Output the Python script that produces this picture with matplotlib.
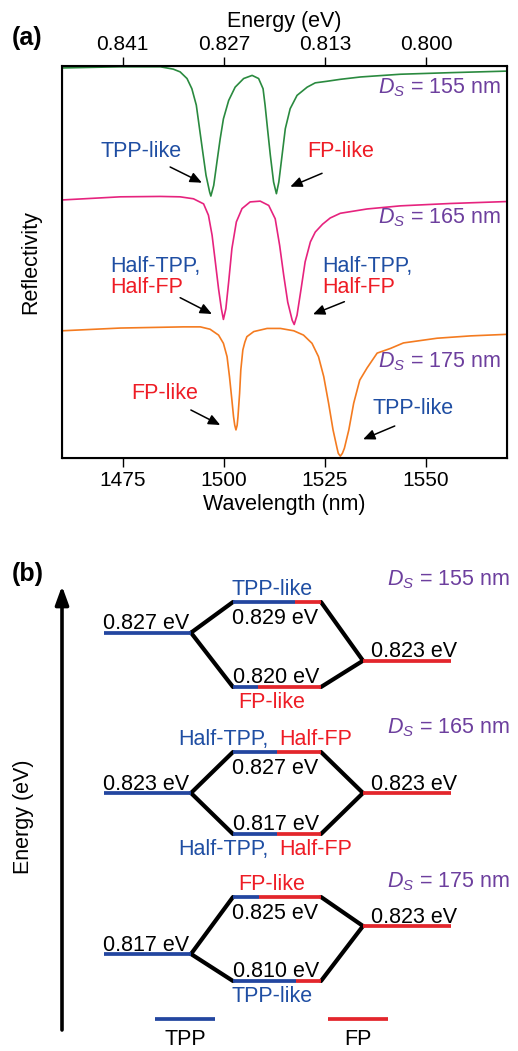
import matplotlib
matplotlib.use('Agg')
import matplotlib.pyplot as plt
from matplotlib.patches import ArrowStyle

plt.rcParams['font.family'] = ['Liberation Sans', 'DejaVu Sans']
plt.rcParams['mathtext.fontset'] = 'custom'
plt.rcParams['mathtext.rm'] = 'Liberation Sans'
plt.rcParams['mathtext.it'] = 'Liberation Sans:italic'

# ---------------- data: panel (a) reflectivity spectra (stacked, a.u.) ----------------
wl_155 = [1460.0, 1474.4, 1484.3, 1487.5, 1489.2, 1490.9, 1492.1, 1493.2, 1494.0, 1494.8,
          1495.6, 1496.5, 1496.8, 1497.5, 1498.3, 1499.1, 1499.9, 1501.2, 1502.8, 1504.9,
          1507.0, 1508.6, 1509.7, 1510.2, 1510.8, 1511.5, 1512.3, 1513.0, 1513.6, 1514.4,
          1515.2, 1516.4, 1518.1, 1520.6, 1522.6, 1525.5, 1528.8, 1533.8, 1543.7, 1556.0,
          1570.1]
r_155 = [0.995, 0.998, 0.998, 0.992, 0.985, 0.968, 0.942, 0.900, 0.840, 0.780,
         0.721, 0.678, 0.668, 0.695, 0.755, 0.814, 0.865, 0.912, 0.946, 0.968,
         0.976, 0.968, 0.942, 0.900, 0.840, 0.772, 0.704, 0.674, 0.704, 0.772,
         0.840, 0.891, 0.925, 0.946, 0.957, 0.961, 0.966, 0.972, 0.979, 0.983,
         0.987]

wl_165 = [1460.0, 1474.4, 1484.3, 1489.2, 1492.5, 1495.0, 1496.2, 1497.1, 1497.9, 1498.7,
          1499.4, 1499.9, 1500.5, 1501.2, 1502.0, 1503.1, 1504.5, 1506.5, 1509.0, 1511.1,
          1512.7, 1513.8, 1514.8, 1515.8, 1516.9, 1517.4, 1518.1, 1519.1, 1520.1, 1521.4,
          1522.6, 1524.4, 1526.3, 1528.8, 1535.4, 1543.7, 1556.0, 1570.1]
r_165 = [0.658, 0.666, 0.667, 0.666, 0.661, 0.648, 0.619, 0.568, 0.500, 0.431,
         0.380, 0.353, 0.380, 0.449, 0.534, 0.602, 0.636, 0.653, 0.655, 0.644,
         0.610, 0.542, 0.466, 0.397, 0.351, 0.340, 0.364, 0.431, 0.500, 0.551,
         0.576, 0.596, 0.612, 0.624, 0.635, 0.643, 0.649, 0.654]

wl_175 = [1460.0, 1474.4, 1490.0, 1494.2, 1496.6, 1498.7, 1499.9, 1500.8, 1501.4, 1502.0,
          1502.4, 1502.7, 1503.0, 1503.3, 1503.5, 1503.9, 1504.2, 1504.7, 1505.2, 1505.7,
          1507.4, 1510.7, 1514.0, 1517.3, 1519.7, 1521.8, 1523.4, 1524.7, 1525.9, 1527.0,
          1528.0, 1528.3, 1528.8, 1529.3, 1529.8, 1530.9, 1532.1, 1533.6, 1535.4, 1537.9,
          1541.2, 1544.4, 1552.7, 1561.0, 1570.1]
r_175 = [0.324, 0.331, 0.334, 0.334, 0.328, 0.313, 0.292, 0.258, 0.207, 0.147,
         0.105, 0.083, 0.071, 0.083, 0.105, 0.164, 0.224, 0.275, 0.295, 0.309,
         0.322, 0.330, 0.330, 0.324, 0.313, 0.292, 0.258, 0.207, 0.139, 0.071,
         0.024, 0.011, 0.004, 0.011, 0.024, 0.071, 0.139, 0.198, 0.229, 0.267,
         0.279, 0.293, 0.305, 0.311, 0.315]

wl_ticks = [1475, 1500, 1525, 1550]
energy_ticks = ['0.841', '0.827', '0.813', '0.800']
ds_values = [155, 165, 175]

# ---------------- data: panel (b) energy-level diagram ----------------
tpp_energy = ['0.827', '0.823', '0.817']
fp_energy = ['0.823', '0.823', '0.823']
upper_energy = ['0.829', '0.827', '0.825']
lower_energy = ['0.820', '0.817', '0.810']
upper_tpp_frac = [0.70, 0.50, 0.30]
lower_tpp_frac = [0.28, 0.50, 0.72]
upper_mode = ['TPP-like', 'half', 'FP-like']
lower_mode = ['FP-like', 'half', 'TPP-like']
# schematic level heights (diagram units, downwards)
left_y = [632.7, 793.0, 954.0]
upper_y = [602.0, 752.0, 897.0]
lower_y = [687.0, 834.0, 981.0]
right_y = [660.7, 793.0, 926.0]

# ---------------- styles ----------------
c_green = '#2a8a3f'
c_pink = '#e6237e'
c_orange = '#f47b20'
c_purple = '#6d3f9e'
c_bluetxt = '#1f4ea3'
c_redtxt = '#ee1c25'
c_tpp = '#2346a0'
c_fp = '#e3262c'
FS = 15.5

W, H = 518, 1051
fig = plt.figure(figsize=(W / 100, H / 100), dpi=100)

# ================= panel (a) =================
ax = fig.add_axes([62 / W, 1 - 457.7 / H, 445 / W, 391.7 / H])
ax.plot(wl_155, r_155, color=c_green, lw=1.2)
ax.plot(wl_165, r_165, color=c_pink, lw=1.2)
ax.plot(wl_175, r_175, color=c_orange, lw=1.2)
ax.set_xlim(1460, 1570)
ax.set_ylim(0, 1)
ax.set_yticks([])
ax.set_xticks(wl_ticks)
ax.tick_params(axis='x', direction='out', length=6.3, width=1.0, labelsize=15, pad=3)
for s in ax.spines.values():
    s.set_linewidth(1.5)
ax.set_xlabel('Wavelength (nm)', fontsize=FS, labelpad=3)
ax.set_ylabel('Reflectivity', fontsize=FS, labelpad=15)

ax2 = ax.twiny()
ax2.set_xlim(ax.get_xlim())
ax2.set_xticks(wl_ticks)
ax2.set_xticklabels(energy_ticks)
ax2.tick_params(axis='x', direction='out', length=6.3, width=1.0, labelsize=15, pad=2)
ax2.set_xlabel('Energy (eV)', fontsize=FS, labelpad=6)

fig.text(12 / W, 1 - 38 / H, '(a)', fontsize=18, fontweight='bold', va='center', ha='left')

# D_S labels
for ds, yv in zip(ds_values, [0.945, 0.612, 0.244]):
    ax.text(1568.5, yv, r'$D_S$ = %d nm' % ds, color=c_purple, fontsize=FS,
            ha='right', va='center')


def arr(a, txt_xy, head_xy):
    a.annotate('', xy=head_xy, xytext=txt_xy,
               arrowprops=dict(arrowstyle=ArrowStyle('-|>', head_length=0.5, head_width=0.22),
                               color='black', lw=1.1, mutation_scale=14,
                               shrinkA=0, shrinkB=0))


def px2d(x, y):
    return (1460 + (x - 62) / 4.04, (457.7 - y) / 391.7)


ax.text(*px2d(141, 152), 'TPP-like', color=c_bluetxt, fontsize=FS, ha='center', va='center')
ax.text(*px2d(340, 152), 'FP-like', color=c_redtxt, fontsize=FS, ha='center', va='center')
arr(ax, px2d(170, 167), px2d(201.7, 182.7))
arr(ax, px2d(321.7, 173.3), px2d(290, 186.7))

ax.text(*px2d(110, 266.7), 'Half-TPP,', color=c_bluetxt, fontsize=FS, ha='left', va='center')
ax.text(*px2d(110, 287.3), 'Half-FP', color=c_redtxt, fontsize=FS, ha='left', va='center')
ax.text(*px2d(321.7, 266.7), 'Half-TPP,', color=c_bluetxt, fontsize=FS, ha='left', va='center')
ax.text(*px2d(321.7, 287.3), 'Half-FP', color=c_redtxt, fontsize=FS, ha='left', va='center')
arr(ax, px2d(180, 297.7), px2d(211.7, 314))
arr(ax, px2d(344, 301.7), px2d(312.7, 314.3))

ax.text(*px2d(164.5, 393.3), 'FP-like', color=c_redtxt, fontsize=FS, ha='center', va='center')
ax.text(*px2d(412.5, 408.3), 'TPP-like', color=c_bluetxt, fontsize=FS, ha='center', va='center')
arr(ax, px2d(190.7, 410), px2d(220, 425))
arr(ax, px2d(394.3, 426), px2d(362.7, 439.3))

# ================= panel (b) =================
axb = fig.add_axes([0, 0, 1, 511 / H])
axb.set_xlim(0, W)
axb.set_ylim(H, 540)
axb.axis('off')

fig.text(12 / W, 1 - 574 / H, '(b)', fontsize=18, fontweight='bold', va='center', ha='left')

axb.annotate('', xy=(62, 586), xytext=(62, 1030),
             arrowprops=dict(arrowstyle=ArrowStyle('-|>', head_length=0.55, head_width=0.2),
                             color='black', lw=2.6, mutation_scale=20, shrinkA=0, shrinkB=0))
axb.text(23, 817, 'Energy (eV)', rotation=90, fontsize=FS, ha='center', va='center')

xl0, xl1 = 104, 191
xm0, xm1 = 233, 321
xr0, xr1 = 363, 451
LW = 2.7
xc = (xm0 + xm1) / 2 - 2


def mode_label(kind, y):
    if kind == 'half':
        axb.text(268, y, 'Half-TPP,', color=c_bluetxt, fontsize=FS, ha='right', va='baseline')
        axb.text(279, y, 'Half-FP', color=c_redtxt, fontsize=FS, ha='left', va='baseline')
    else:
        col = c_bluetxt if kind.startswith('TPP') else c_redtxt
        axb.text(xc - 3, y, kind, color=col, fontsize=FS, ha='center', va='baseline')


for i in range(3):
    ly, uy, lo, ry = left_y[i], upper_y[i], lower_y[i], right_y[i]
    # connectors
    axb.plot([xl1, xm0], [ly, uy], color='black', lw=3.0, solid_capstyle='round', zorder=2)
    axb.plot([xl1, xm0], [ly, lo], color='black', lw=3.0, solid_capstyle='round', zorder=2)
    axb.plot([xm1, xr0], [uy, ry], color='black', lw=3.0, solid_capstyle='round', zorder=2)
    axb.plot([xm1, xr0], [lo, ry], color='black', lw=3.0, solid_capstyle='round', zorder=2)
    # levels
    axb.plot([xl0, xl1], [ly, ly], color=c_tpp, lw=LW, solid_capstyle='butt', zorder=3)
    axb.plot([xr0, xr1], [ry, ry], color=c_fp, lw=LW, solid_capstyle='butt', zorder=3)
    xs = xm0 + upper_tpp_frac[i] * (xm1 - xm0)
    axb.plot([xm0, xs], [uy, uy], color=c_tpp, lw=LW, solid_capstyle='butt', zorder=3)
    axb.plot([xs, xm1], [uy, uy], color=c_fp, lw=LW, solid_capstyle='butt', zorder=3)
    xs = xm0 + lower_tpp_frac[i] * (xm1 - xm0)
    axb.plot([xm0, xs], [lo, lo], color=c_tpp, lw=LW, solid_capstyle='butt', zorder=3)
    axb.plot([xs, xm1], [lo, lo], color=c_fp, lw=LW, solid_capstyle='butt', zorder=3)
    # energy labels
    axb.text(xl0 - 1, ly - 3.3, tpp_energy[i] + ' eV', fontsize=FS, ha='left', va='baseline')
    axb.text(xr0 + 8, ry - 3.5, fp_energy[i] + ' eV', fontsize=FS, ha='left', va='baseline')
    axb.text(xc, uy + 22, upper_energy[i] + ' eV', fontsize=FS, ha='center', va='baseline')
    axb.text(xc + 1, lo - 4.5, lower_energy[i] + ' eV', fontsize=FS, ha='center', va='baseline')
    # mode labels
    mode_label(upper_mode[i], uy - 7)
    mode_label(lower_mode[i], lo + 21)

for ds, yb in zip(ds_values, [585, 733.3, 887.3]):
    axb.text(510, yb, r'$D_S$ = %d nm' % ds, color=c_purple, fontsize=FS, ha='right', va='baseline')

# legend
axb.plot([155, 215], [1019, 1019], color=c_tpp, lw=LW, solid_capstyle='butt')
axb.plot([328, 388], [1019, 1019], color=c_fp, lw=LW, solid_capstyle='butt')
axb.text(185, 1045, 'TPP', fontsize=FS, ha='center', va='baseline')
axb.text(358, 1045, 'FP', fontsize=FS, ha='center', va='baseline')

fig.savefig('out.png', dpi=100)
